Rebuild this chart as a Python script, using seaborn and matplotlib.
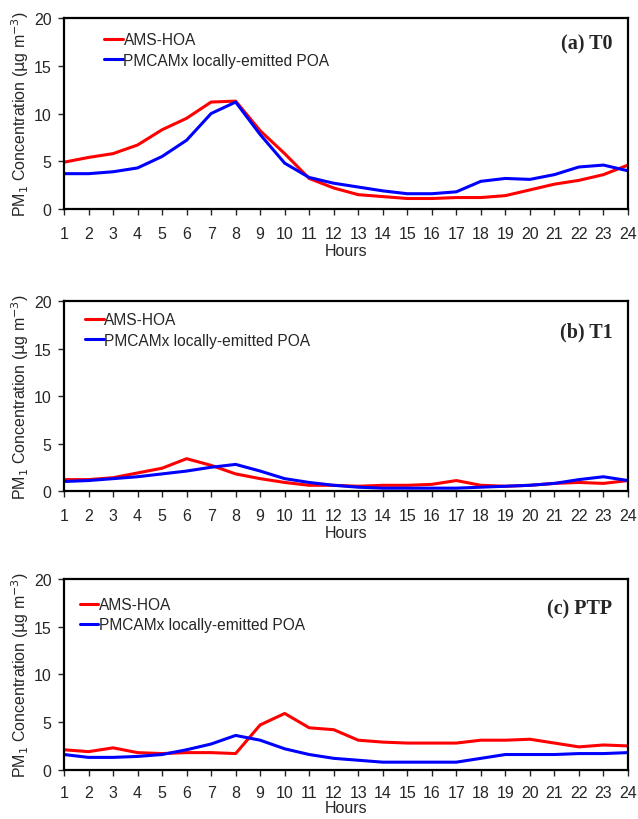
import pandas as pd
import matplotlib
matplotlib.use("Agg")
import matplotlib.pyplot as plt
import seaborn as sns

hours = list(range(1, 25))

# (a) T0
t0_ams = [4.9, 5.4, 5.8, 6.7, 8.3, 9.5, 11.2, 11.3, 8.2, 5.8, 3.2, 2.2,
          1.5, 1.3, 1.1, 1.1, 1.2, 1.2, 1.4, 2.0, 2.6, 3.0, 3.6, 4.6]
t0_pmcamx = [3.7, 3.7, 3.9, 4.3, 5.5, 7.2, 10.0, 11.2, 7.8, 4.8, 3.3, 2.7,
             2.3, 1.9, 1.6, 1.6, 1.8, 2.9, 3.2, 3.1, 3.6, 4.4, 4.6, 4.0]

# (b) T1
t1_ams = [1.2, 1.2, 1.4, 1.9, 2.4, 3.4, 2.7, 1.8, 1.3, 0.9, 0.6, 0.6,
          0.5, 0.6, 0.6, 0.7, 1.1, 0.6, 0.5, 0.6, 0.8, 0.9, 0.8, 1.1]
t1_pmcamx = [1.0, 1.1, 1.3, 1.5, 1.8, 2.1, 2.5, 2.8, 2.1, 1.3, 0.9, 0.6,
             0.4, 0.3, 0.3, 0.3, 0.3, 0.4, 0.5, 0.6, 0.8, 1.2, 1.5, 1.1]

# (c) PTP
ptp_ams = [2.1, 1.9, 2.3, 1.8, 1.7, 1.8, 1.8, 1.7, 4.7, 5.9, 4.4, 4.2,
           3.1, 2.9, 2.8, 2.8, 2.8, 3.1, 3.1, 3.2, 2.8, 2.4, 2.6, 2.5]
ptp_pmcamx = [1.6, 1.3, 1.3, 1.4, 1.6, 2.1, 2.7, 3.6, 3.1, 2.2, 1.6, 1.2,
              1.0, 0.8, 0.8, 0.8, 0.8, 1.2, 1.6, 1.6, 1.6, 1.7, 1.7, 1.8]

series_names = ["AMS-HOA", "PMCAMx locally-emitted POA"]
panel_titles = ["(a) T0", "(b) T1", "(c) PTP"]
panel_data = [(t0_ams, t0_pmcamx), (t1_ams, t1_pmcamx), (ptp_ams, ptp_pmcamx)]

sns.set_style("white")
plt.rcParams["font.family"] = ["Liberation Sans", "DejaVu Sans"]

fig = plt.figure(figsize=(6.38, 8.2), dpi=100)

# axes boxes in figure fractions (left, bottom, width, height)
boxes = [(0.1003, 0.7439, 0.884, 0.2329),
         (0.1003, 0.4000, 0.884, 0.2317),
         (0.1003, 0.0600, 0.884, 0.2329)]
legend_anchor = [(0.071, 0.925), (0.037, 0.940), (0.028, 0.905)]
title_y = [0.869, 0.842, 0.843]
xlabel_pad = [2, 2, 0]

for i, (ams, pmc) in enumerate(panel_data):
    ax = fig.add_axes(boxes[i])
    df = pd.DataFrame({
        "Hours": hours * 2,
        "conc": ams + pmc,
        "series": [series_names[0]] * 24 + [series_names[1]] * 24,
    })
    sns.lineplot(data=df, x="Hours", y="conc", hue="series",
                 palette=["#ff0000", "#0000ff"], linewidth=2.2, ax=ax)

    ax.set_xlim(1, 24)
    ax.set_ylim(0, 20)
    ax.set_xticks(hours)
    ax.set_yticks([0, 5, 10, 15, 20])
    ax.tick_params(axis="x", labelsize=11.5, direction="out", length=4, width=1,
                   bottom=True, pad=8 if i < 2 else 7)
    ax.tick_params(axis="y", labelsize=11.5, direction="out", length=4, width=1,
                   left=True, pad=5)
    for sp in ax.spines.values():
        sp.set_linewidth(1.6)
        sp.set_color("black")
    ax.set_xlabel("Hours", fontsize=11.5, labelpad=xlabel_pad[i])
    ax.set_ylabel(r"PM$_1$ Concentration ($\mathrm{\mu}$g m$^{-3}$)", fontsize=11.5, labelpad=2)

    leg = ax.legend(loc="upper left", bbox_to_anchor=legend_anchor[i], frameon=False,
                    fontsize=11.2, handlelength=1.2, handletextpad=0.05,
                    borderpad=0, borderaxespad=0, labelspacing=0.35)
    for line in leg.get_lines():
        line.set_linewidth(2.2)

    ax.text(0.972, title_y[i], panel_titles[i], transform=ax.transAxes,
            ha="right", va="center", fontsize=14.5, fontweight="bold",
            family=["Liberation Serif", "DejaVu Serif"])

fig.savefig("out.png", dpi=100)
